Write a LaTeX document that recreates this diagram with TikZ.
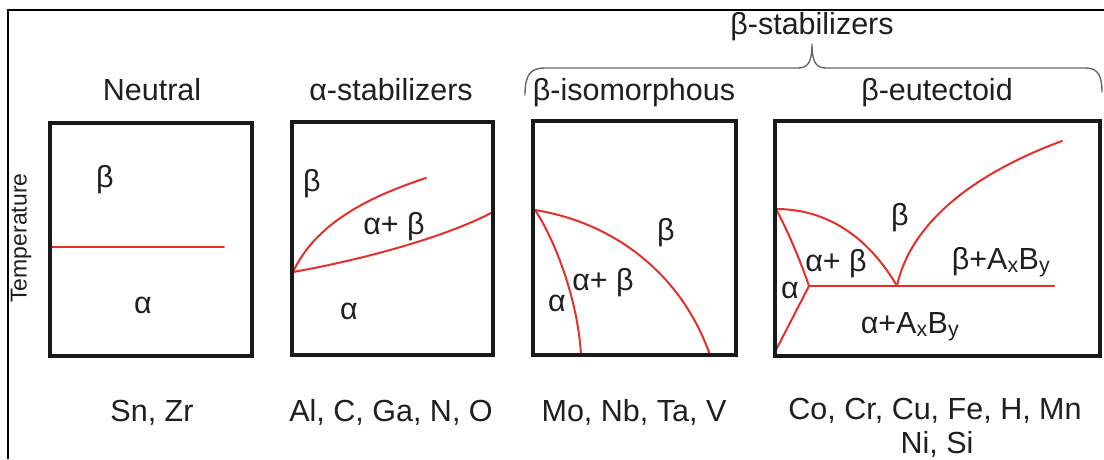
\documentclass[tikz,border=0pt]{standalone}
\usepackage{fontspec}
\setmainfont{Liberation Sans}
\begin{document}
\begin{tikzpicture}[x=1pt,y=-1pt,
  txt/.style={inner sep=0pt,text=black!88,font=\fontsize{30.5}{34}\selectfont},
  lbl/.style={txt,anchor=base},
  phase/.style={txt},
  boxframe/.style={line width=3.6pt,black!90},
  redline/.style={line width=2pt,draw={rgb,255:red,228;green,48;blue,40},line cap=round},
  bracestyle/.style={line width=1.4pt,black!60,line cap=round}]
\useasboundingbox (0,0) rectangle (1104,459);
% outer frame
\draw[line width=2.5pt,black] (8,459) -- (8,10) -- (1106,10);
% temperature
\node[txt,font=\fontsize{23}{26}\selectfont,rotate=90] (temp) at (21,238) {Temperature};
% titles
\node[lbl] (tneutral) at (152,100) {Neutral};
\node[lbl] (talpha) at (391,100) {α-stabilizers};
\node[lbl] (tiso) at (634,100) {β-isomorphous};
\node[lbl] (teut) at (937,100) {β-eutectoid};
\node[lbl] (tbeta) at (812,34) {β-stabilizers};
% brace
\draw[bracestyle] (525,95) .. controls (525,75) and (530,68) .. (545,68) -- (798,68)
  .. controls (808,68) and (812,62) .. (812,44)
  .. controls (812,62) and (816,68) .. (826,68) -- (1086,68)
  .. controls (1098,68) and (1102,76) .. (1102,92);
% bottom labels
\node[lbl] (bneutral) at (152,421) {Sn, Zr};
\node[lbl] (balpha) at (391,421) {Al, C, Ga, N, O};
\node[lbl] (biso) at (634,421) {Mo, Nb, Ta, V};
\node[lbl] (beut1) at (935,419) {Co, Cr, Cu, Fe, H, Mn};
\node[lbl] (beut2) at (937,453) {Ni, Si};
% Neutral box
\draw[redline] (52,247) -- (224,247);
\draw[boxframe] (50,123) rectangle (252,356);
\node[phase] (nb) at (105,180) {β};
\node[phase] (na) at (143,305) {α};
% alpha-stabilizers box
\draw[redline] (293,272) .. controls (315,225) and (365,198) .. (426,178);
\draw[redline] (293,272) .. controls (350,262) and (440,240) .. (493,212);
\draw[boxframe] (292,122) rectangle (493,355);
\node[phase] (ab) at (312,184) {β};
\node[phase] (aab) at (394,227) {α+ β};
\node[phase] (aa) at (349,311) {α};
% beta-isomorphous box
\draw[redline] (535,210) .. controls (555,240) and (578,300) .. (581,355);
\draw[redline] (535,210) .. controls (610,222) and (680,270) .. (710,355);
\draw[boxframe] (533,121) rectangle (736,355);
\node[phase] (ib) at (666,233) {β};
\node[phase] (iab) at (603,283) {α+ β};
\node[phase] (ia) at (557,303) {α};
% beta-eutectoid box
\draw[redline] (776,209) .. controls (790,235) and (803,268) .. (809,286);
\draw[redline] (776,209) .. controls (830,209) and (870,240) .. (897,286);
\draw[redline] (809,286) -- (776,350);
\draw[redline] (809,286) -- (1054,286);
\draw[redline] (897,286) .. controls (910,225) and (970,175) .. (1062,141);
\draw[boxframe] (775,121) rectangle (1100,356);
\node[phase] (eb) at (900,218) {β};
\node[phase] (eab) at (836,264) {α+ β};
\node[phase] (ea) at (790,290) {α};
\node[lbl] (ebx) at (1001,269) {β+A\textsubscript{x}B\textsubscript{y}};
\node[lbl] (eax) at (910,333) {α+A\textsubscript{x}B\textsubscript{y}};
\end{tikzpicture}
\end{document}
